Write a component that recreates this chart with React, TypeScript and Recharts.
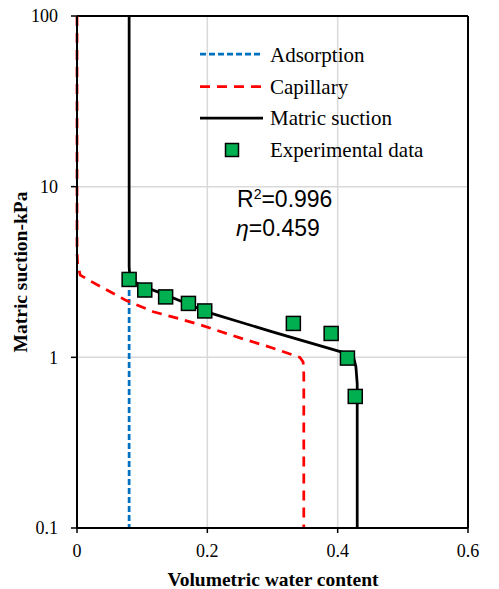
import React from 'react';
import { ComposedChart, Line, Scatter, XAxis, YAxis, CartesianGrid, ReferenceLine } from 'recharts';

// Adsorption curve
const adsorptionX = [0.08, 0.08];
const adsorptionY = [2.8, 0.1];

// Capillary curve
const capillaryX = [0, 0, 0.001, 0.005, 0.02, 0.04, 0.074, 0.117, 0.158, 0.189, 0.25, 0.3, 0.342, 0.347, 0.348, 0.348];
const capillaryY = [100, 4.2, 3.5, 3.03, 2.81, 2.55, 2.17, 1.85, 1.68, 1.55, 1.3, 1.135, 1.0, 0.94, 0.8, 0.1];

// Matric suction curve
const matricX = [0.08, 0.08, 0.081, 0.088, 0.1, 0.13, 0.16, 0.2, 0.25, 0.3, 0.35, 0.404, 0.418, 0.425, 0.428, 0.43, 0.43];
const matricY = [100, 3.4, 3.0, 2.77, 2.62, 2.37, 2.13, 1.84, 1.61, 1.41, 1.24, 1.08, 1.04, 0.98, 0.88, 0.7, 0.1];

// Experimental data
const expX = [0.08, 0.104, 0.136, 0.171, 0.196, 0.332, 0.39, 0.415, 0.427];
const expY = [2.86, 2.48, 2.26, 2.07, 1.87, 1.58, 1.38, 0.99, 0.59];

const xTicks = [0, 0.2, 0.4, 0.6];
const yTicks = [0.1, 1, 10, 100];

const legendNames = ['Adsorption', 'Capillary', 'Matric suction', 'Experimental data'];

const toPts = (xs: number[], ys: number[]) => xs.map((x, i) => ({ x, y: ys[i] }));

const adsorption = toPts(adsorptionX, adsorptionY);
const capillary = toPts(capillaryX, capillaryY);
const matric = toPts(matricX, matricY);
const experimental = toPts(expX, expY);

const SERIF = '"Liberation Serif", "Times New Roman", serif';
const SANS = '"Liberation Sans", Arial, sans-serif';

const Square = (props: any) => {
  const { cx, cy } = props;
  if (cx == null || cy == null) return null;
  return <rect x={cx - 7} y={cy - 7} width={14} height={14} fill="#00b050" stroke="#000" strokeWidth={1.5} />;
};

export default function App() {
  return (
    <div style={{ position: 'absolute', left: 0, top: 0, width: 499, height: 589, background: '#fff' }}>
      <ComposedChart width={499} height={589} margin={{ top: 16, right: 31, bottom: 0, left: 0 }}>
        <CartesianGrid stroke="#d9d9d9" strokeWidth={1.5} />
        <XAxis
          type="number"
          dataKey="x"
          domain={[0, 0.6]}
          ticks={xTicks}
          height={61}
          tickSize={5}
          tickMargin={11}
          tick={{ fill: '#000', fontSize: 18, fontFamily: SERIF }}
          tickLine={{ stroke: '#000', strokeWidth: 1.5 }}
          axisLine={{ stroke: '#000', strokeWidth: 2 }}
        />
        <YAxis
          type="number"
          dataKey="y"
          scale="log"
          domain={[0.1, 100]}
          ticks={yTicks}
          width={77}
          tickSize={6}
          tickMargin={13}
          tick={{ fill: '#000', fontSize: 18, fontFamily: SERIF }}
          tickLine={{ stroke: '#000', strokeWidth: 1.5 }}
          axisLine={{ stroke: '#000', strokeWidth: 2 }}
        />
        <ReferenceLine y={100} stroke="#000" strokeWidth={2} />
        <ReferenceLine x={0.6} stroke="#000" strokeWidth={2} />
        <Line data={adsorption} dataKey="y" type="linear" stroke="#0070c0" strokeWidth={2.75} strokeDasharray="6 3" dot={false} isAnimationActive={false} />
        <Line data={capillary} dataKey="y" type="linear" stroke="#ff0000" strokeWidth={2.75} strokeDasharray="10 7" dot={false} isAnimationActive={false} />
        <Line data={matric} dataKey="y" type="linear" stroke="#000" strokeWidth={2.75} dot={false} isAnimationActive={false} />
        <Scatter data={experimental} dataKey="y" shape={<Square />} isAnimationActive={false} />

        {/* Legend */}
        <g>
          <line x1={200} x2={263} y1={54} y2={54} stroke="#0070c0" strokeWidth={2.75} strokeDasharray="6 3" />
          <line x1={200} x2={263} y1={86.5} y2={86.5} stroke="#ff0000" strokeWidth={2.75} strokeDasharray="10 7" />
          <line x1={200} x2={263} y1={118} y2={118} stroke="#000" strokeWidth={2.75} />
          <rect x={225.5} y={143.5} width={13} height={13} fill="#00b050" stroke="#000" strokeWidth={1.5} />
          {legendNames.map((n, i) => (
            <text key={n} x={270} y={62 + i * 31.7} fontFamily={SERIF} fontSize={21} fill="#000">{n}</text>
          ))}
        </g>

        {/* Annotations */}
        <text x={237} y={207} fontFamily={SANS} fontSize={23} fill="#000">
          R<tspan dy={-8} fontSize={14}>2</tspan><tspan dy={8}>=0.996</tspan>
        </text>
        <text x={236} y={236} fontFamily={SANS} fontSize={23} fill="#000">
          <tspan fontStyle="italic">η</tspan>=0.459
        </text>

        {/* Axis titles */}
        <text x={273} y={586} textAnchor="middle" fontFamily={SERIF} fontWeight="bold" fontSize={19.5} fill="#000">Volumetric water content</text>
        <text x={26.5} y={272} transform="rotate(-90 26.5 272)" textAnchor="middle" fontFamily={SERIF} fontWeight="bold" fontSize={19.5} fill="#000">Matric suction-kPa</text>
      </ComposedChart>
    </div>
  );
}
